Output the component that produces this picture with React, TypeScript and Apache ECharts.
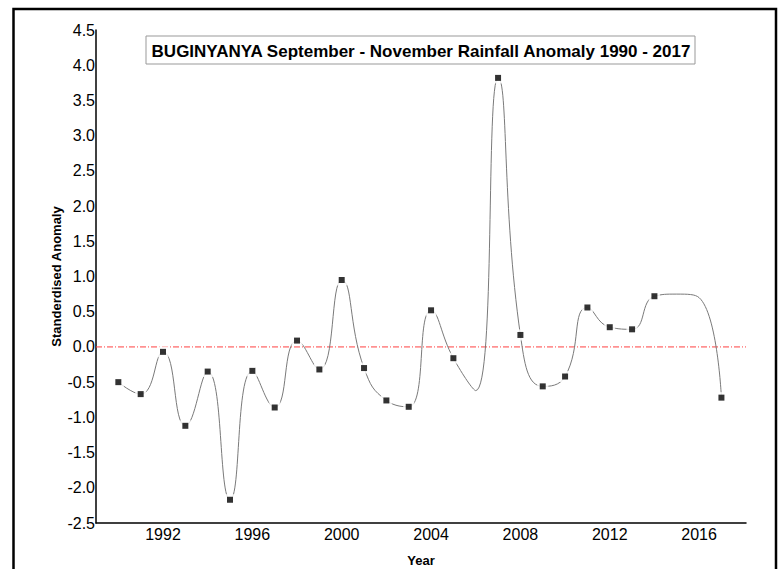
import React, { useEffect, useRef } from "react";
import * as echarts from "echarts";

const years = [1990, 1991, 1992, 1993, 1994, 1995, 1996, 1997, 1998, 1999, 2000, 2001, 2002, 2003, 2004, 2005, 2006, 2007, 2008, 2009, 2010, 2011, 2012, 2013, 2014, 2015, 2016, 2017];
// marked anomaly values (null = no marker drawn)
const anomaly = [-0.5, -0.67, -0.07, -1.12, -0.35, -2.17, -0.34, -0.86, 0.09, -0.32, 0.95, -0.3, -0.76, -0.85, 0.52, -0.16, null, 3.82, 0.17, -0.56, -0.42, 0.56, 0.28, 0.25, 0.72, null, null, -0.72];
// smoothed curve values
const curve = [-0.5, -0.67, -0.07, -1.12, -0.35, -2.17, -0.34, -0.86, 0.09, -0.32, 0.95, -0.3, -0.76, -0.85, 0.52, -0.16, -0.62, 3.82, 0.17, -0.56, -0.42, 0.56, 0.28, 0.25, 0.72, 0.75, 0.7, -0.72];
const xTickYears = [1992, 1996, 2000, 2004, 2008, 2012, 2016];
const xMin = 1989;
const xMax = 2018.1;
const zeroLevel = 0;

const titleText = "BUGINYANYA September - November Rainfall Anomaly 1990 - 2017";
const FONT = "'Liberation Sans', Arial, sans-serif";
const ZERO_COLOR = "#ff4040";

export default function App() {
  const ref = useRef<HTMLDivElement>(null);
  useEffect(() => {
    if (!ref.current) return;
    const chart = echarts.init(ref.current, null, { renderer: "svg" });
    const markers = years.map((y, i) => (anomaly[i] == null ? null : [y, anomaly[i]])).filter((d) => d) as number[][];
    chart.setOption({
      animation: false,
      backgroundColor: "#fff",
      textStyle: { fontFamily: FONT },
      grid: { left: 96, right: 37, top: 30, bottom: 46, containLabel: false, outerBoundsMode: "none" },
      xAxis: {
        type: "value",
        min: xMin,
        max: xMax,
        interval: 1,
        name: "Year",
        nameLocation: "middle",
        nameGap: 31,
        nameMoveOverlap: false,
        nameTextStyle: { fontSize: 13, fontWeight: "bold", color: "#000", fontFamily: FONT },
        axisLine: { show: true, onZero: false, lineStyle: { color: "#000", width: 1.5 } },
        axisTick: { show: false },
        splitLine: { show: false },
        axisLabel: {
          color: "#000",
          fontSize: 16,
          fontFamily: FONT,
          margin: 3,
          showMaxLabel: false,
          showMinLabel: false,
          formatter: (v: number) => (xTickYears.includes(v) ? String(v) : ""),
        },
      },
      yAxis: {
        type: "value",
        min: -2.5,
        max: 4.5,
        interval: 0.5,
        name: "Standerdised Anomaly",
        nameLocation: "middle",
        nameGap: 33,
        nameMoveOverlap: false,
        nameTextStyle: { fontSize: 13, fontWeight: "bold", color: "#000", fontFamily: FONT },
        axisLine: { show: true, onZero: false, lineStyle: { color: "#000", width: 1.5 } },
        axisTick: { show: false },
        splitLine: { show: false },
        axisLabel: {
          color: "#000",
          fontSize: 16,
          fontFamily: FONT,
          margin: 1,
          formatter: (v: number) => v.toFixed(1),
        },
      },
      series: [
        {
          type: "line",
          name: "zero",
          data: [[xMin, zeroLevel], [xMax, zeroLevel]],
          symbol: "none",
          showSymbol: false,
          silent: true,
          lineStyle: { color: ZERO_COLOR, width: 1, type: [6, 2, 1, 2] },
          itemStyle: { color: ZERO_COLOR },
          z: 1,
        },
        {
          type: "line",
          data: years.map((y, i) => [y, curve[i]]),
          smooth: 0.5,
          showSymbol: false,
          symbol: "none",
          lineStyle: { color: "#7a7a7a", width: 1 },
          itemStyle: { color: "#7a7a7a" },
          z: 2,
        },
        {
          type: "scatter",
          data: markers,
          symbol: "rect",
          symbolSize: 11,
          itemStyle: { color: "#fff" },
          z: 3,
          silent: true,
        },
        {
          type: "scatter",
          data: markers,
          symbol: "rect",
          symbolSize: 6,
          itemStyle: { color: "#000" },
          z: 5,
        },
      ],
      graphic: [
        {
          type: "rect",
          shape: { x: 13.5, y: 9, width: 762.5, height: 600 },
          style: { fill: "none", stroke: "#000", lineWidth: 2.5 },
          silent: true,
          z: 10,
        },
        {
          type: "rect",
          shape: { x: 146, y: 36, width: 549, height: 28 },
          style: { fill: "#fff", stroke: "#999", lineWidth: 1 },
          silent: true,
          z: 10,
        },
        {
          type: "text",
          x: 421,
          y: 51,
          style: {
            text: titleText,
            fill: "#000",
            font: `bold 17px ${FONT}`,
            textAlign: "center",
            textVerticalAlign: "middle",
          },
          silent: true,
          z: 11,
        },
      ],
    });
    return () => chart.dispose();
  }, []);
  return <div ref={ref} style={{ position: "fixed", left: 0, top: 0, width: 783, height: 569 }} />;
}
